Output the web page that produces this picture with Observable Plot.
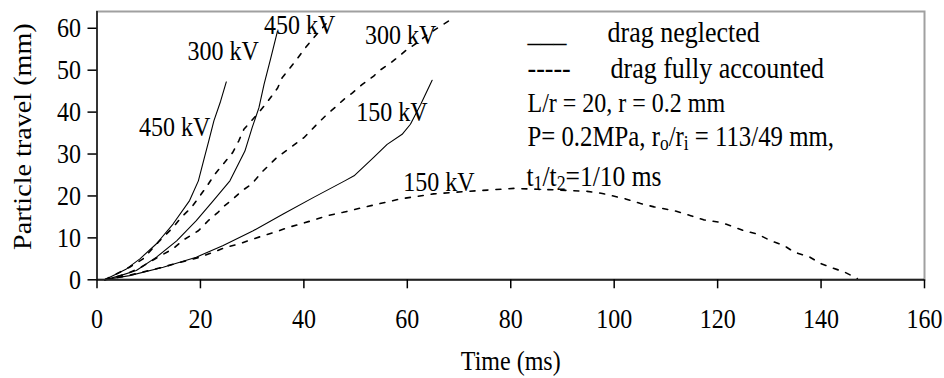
<!DOCTYPE html>
<html><head><meta charset="utf-8">
<script src="https://cdn.jsdelivr.net/npm/d3@7"></script>
<script src="https://cdn.jsdelivr.net/npm/@observablehq/plot@0.6"></script>
<style>html,body{margin:0;padding:0;background:#fff}</style>
</head><body><div id="chart"></div>
<script>
// ---- data (time in ms, particle travel in mm) ----
const xTicks = [0, 20, 40, 60, 80, 100, 120, 140, 160];
const yTicks = [0, 10, 20, 30, 40, 50, 60];

const solid450 = [[1.5,0],[5.7,2.6],[8.3,5],[11.5,8.6],[14.7,13.3],[17.9,18.9],[19.6,23.6],[20.8,29.3],[21.6,33.1],[22.6,37.9],[23.9,42.6],[25,47.2]];
const solid300 = [[1.5,0],[4.5,1],[7.6,2.2],[11.5,5.4],[15.4,9.3],[19.2,14.1],[22.5,18.9],[25.7,23.6],[28.6,30.7],[30,36.3],[31.3,41],[32.3,46.6],[33.6,52.9],[34.9,59.3]];
const solid150 = [[1.5,0],[6.3,1],[12.8,3],[19.2,5.4],[24.4,8.2],[30.2,11.7],[36,15.7],[41.8,19.6],[47.9,23.6],[49.7,24.8],[53.5,29.2],[56.1,32.3],[59,34.7],[60.6,37.1],[62.6,41.9],[64.8,47.6]];

const drag450 = [[1.5,0],[6.3,3],[8.9,5],[12.1,9.3],[14.7,12.5],[16.3,14.9],[18.3,17.3],[19.9,20],[21.5,22.8],[22.8,25.2],[24.4,27.6],[26.2,30.3],[27.4,33.1],[28.4,35.9],[31,39.5],[32.8,42.2],[34.9,45.7],[35.8,48.2],[37.1,50.2],[38.4,52.2],[40,54.9],[41.6,57.3],[43.6,60.1],[44.6,61.5]];
const drag300 = [[1.5,0],[5.7,1.4],[8.5,3],[11.8,5.4],[14.7,7.4],[16.7,9.5],[19.6,11.7],[21.5,14.1],[23.4,16.1],[24.7,17.7],[26.3,19.3],[28,21.2],[29.9,22.8],[31.8,25.6],[34.8,29.2],[37.8,31.9],[40,33.9],[42.6,37.2],[44.5,39.5],[46.1,41.2],[47.7,43],[49.4,44.6],[51.3,46.6],[53.5,48.6],[54.5,49.8],[56.4,51.4],[58.4,53.3],[59.7,54.7],[61.9,56.5],[63.9,58.5],[66.4,60.5],[69,62.5]];
const drag150 = [[1.5,0],[6,1],[12,2.8],[19.9,5.4],[22.5,6.6],[25,7.8],[27.6,8.6],[29.6,9.5],[32.1,10.5],[35,11.6],[37,12.5],[39.9,13.5],[42.5,14.5],[44.5,15.3],[47.6,16.1],[51.6,17.3],[58.7,19.3],[65.1,20.5],[71.6,21.1],[75.5,21.4],[80.6,21.8],[85.1,21.6],[89.6,21.4],[94.8,21.1],[97.7,20.6],[102.2,19.3],[105.1,18.2],[107.7,17.4],[111.6,16.5],[114.8,15.3],[117.3,14.3],[120.6,13.7],[122.5,12.9],[125.1,11.7],[127.7,10.9],[130.3,9.3],[132.8,8.2],[134.8,6.6],[137.7,5.5],[139.9,3.9],[142.3,2.8],[144.6,1.8],[147,0.3]];

const curveLabels = [
  {t: 15,   s: 36.5, text: "450 kV"},
  {t: 24.4, s: 54.6, text: "300 kV"},
  {t: 39.2, s: 60.7, text: "450 kV"},
  {t: 58.7, s: 58.3, text: "300 kV"},
  {t: 57,   s: 39.9, text: "150 kV"},
  {t: 66.1, s: 23.4, text: "150 kV"}
];

const legendTexts = ["___", "drag neglected", "-----", "drag fully accounted",
  "L/r = 20, r = 0.2 mm", "P= 0.2MPa, r{o}/r{i} = 113/49 mm,", "t{1}/t{2}=1/10 ms"];

const xLabel = "Time (ms)";
const yLabel = "Particle travel (mm)";

// ---- build rows ----
const groups = [
  {key: "n450", drag: "neglected", pts: solid450},
  {key: "n300", drag: "neglected", pts: solid300},
  {key: "n150", drag: "neglected", pts: solid150},
  {key: "a450", drag: "accounted", pts: drag450},
  {key: "a300", drag: "accounted", pts: drag300},
  {key: "a150", drag: "accounted", pts: drag150}
];
const rows = groups.flatMap(g => g.pts.map(([t, s]) => ({key: g.key, drag: g.drag, t, s})));

const FONT = "Liberation Serif, Times New Roman, serif";
const mL = 96.5, mT = 11;

function legend(i, x, baseline, size) {
  return Plot.text([legendTexts[i]], {
    frameAnchor: "top-left", text: d => d, textAnchor: "start", lineAnchor: "bottom",
    dx: x - mL, dy: baseline - mT, fontSize: size, fill: "black"
  });
}

const chart = Plot.plot({
  width: 944, height: 378,
  marginLeft: mL, marginRight: 20, marginTop: mT, marginBottom: 98.7,
  style: {fontFamily: FONT, fontSize: "24px", background: "white", color: "black"},
  x: {domain: [0, 160]},
  y: {domain: [0, 64]},
  marks: [
    Plot.frame({stroke: "#a0a0a0", strokeWidth: 2}),
    Plot.line(rows.filter(r => r.drag === "neglected"), {x: "t", y: "s", z: "key", stroke: "black", strokeWidth: 1.1}),
    Plot.line(rows.filter(r => r.drag === "accounted"), {x: "t", y: "s", z: "key", stroke: "black", strokeWidth: 1.6, strokeDasharray: "5,8"}),
    Plot.ruleY([0], {stroke: "#222", strokeWidth: 2}),
    Plot.ruleX([0], {stroke: "#111", strokeWidth: 1.5}),
    Plot.axisX({ticks: xTicks, tickSize: 9, tickPadding: 20, label: null, fontSize: 24, strokeWidth: 1.5}),
    Plot.axisY({ticks: yTicks, tickSize: 9, tickPadding: 7, label: null, fontSize: 24, strokeWidth: 1.5}),
    Plot.text([xLabel], {frameAnchor: "bottom", text: d => d, dy: 81, fontSize: 24, lineAnchor: "middle", textAnchor: "middle"}),
    Plot.text([yLabel], {frameAnchor: "left", text: d => d, rotate: -90, dx: -73.5, dy: -9, fontSize: 24.5, lineAnchor: "middle", textAnchor: "middle"}),
    Plot.text(curveLabels, {x: "t", y: "s", text: "text", fontSize: 24, fill: "black"}),
    legend(0, 527, 41, 26),
    legend(1, 607, 41, 26),
    legend(2, 527, 77, 26),
    legend(3, 610, 77, 26),
    legend(4, 527, 111.5, 24),
    legend(5, 527, 145, 24.8),
    legend(6, 526, 185, 25.5)
  ]
});

// subscripts + slight vertical stretch of the original rendering
d3.select(chart).selectAll("text").each(function() {
  const el = d3.select(this);
  const txt = this.textContent;
  if (txt.includes("{")) {
    el.text(null);
    let lowered = false;
    txt.split(/(\{[^}]*\})/).forEach(part => {
      if (!part) return;
      if (part.startsWith("{")) {
        el.append("tspan").attr("font-size", "70%").attr("dy", lowered ? null : 4).text(part.slice(1, -1));
        lowered = true;
      } else {
        el.append("tspan").attr("dy", lowered ? -4 : null).text(part);
        lowered = false;
      }
    });
  }
  const tr = el.attr("transform");
  if (tr && /^translate\([^)]*\)/.test(tr)) {
    el.attr("transform", tr.replace(/^(translate\([^)]*\))/, "$1 scale(1,1.15)"));
  } else {
    el.attr("transform", (tr ? tr + " " : "") + "scale(1,1.15)");
  }
});

document.getElementById("chart").appendChild(chart);
</script>
</body></html>
